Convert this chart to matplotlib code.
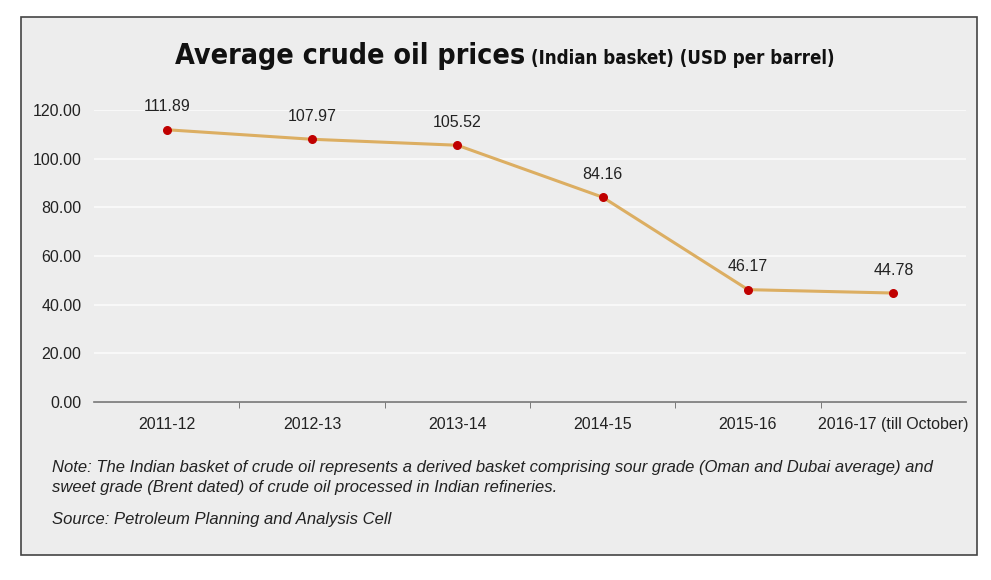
import matplotlib.pyplot as plt
from matplotlib.patches import Rectangle

years = ['2011-12', '2012-13', '2013-14', '2014-15', '2015-16', '2016-17 (till October)']
prices = [111.89, 107.97, 105.52, 84.16, 46.17, 44.78]
yticks = [0, 20, 40, 60, 80, 100, 120]

font = 'Liberation Sans'
bg = '#ededed'
fig = plt.figure(figsize=(9.91, 5.8), dpi=100)
fig.patch.set_facecolor('white')

# grey panel with dark border, behind everything
fig.patches.append(Rectangle((21 / 991, 1 - 555 / 580), 956 / 991, 538 / 580,
                             transform=fig.transFigure, facecolor=bg,
                             edgecolor='#444444', linewidth=1.2, zorder=-5))

ax = fig.add_axes([94 / 991, 1 - 402 / 580, 872 / 991, 292 / 580])
ax.set_zorder(2)
ax.set_facecolor(bg)
x = list(range(len(years)))
ax.plot(x, prices, color='#dcae62', linewidth=2.2, zorder=3, clip_on=False)
ax.scatter(x, prices, color='#c00000', s=30, zorder=4, clip_on=False)
for xi, v in zip(x, prices):
    ax.annotate(f'{v:.2f}', (xi, v), xytext=(0, 11), textcoords='offset points',
                ha='center', va='bottom', fontsize=11.5, family=font, color='#222222')

ax.set_xlim(-0.5, len(years) - 0.5)
ax.set_ylim(0, 120)
ax.set_yticks(yticks)
ax.set_yticklabels([f'{t:.2f}' for t in yticks], family=font, fontsize=11.5, color='#222222')
ax.set_xticks(x)
ax.set_xticklabels(years, family=font, fontsize=11.5, color='#222222')
ax.set_xticks([i + 0.5 for i in range(len(years) - 1)], minor=True)
ax.tick_params(axis='x', which='major', length=0, pad=11)
ax.tick_params(axis='x', which='minor', length=4, color='#666666', direction='out')
ax.tick_params(axis='y', length=0, pad=9)
ax.grid(axis='y', color='#fafafa', linewidth=1.3, zorder=0)
ax.set_axisbelow(True)
for s in ['top', 'right', 'left']:
    ax.spines[s].set_visible(False)
ax.spines['bottom'].set_color('#777777')
ax.spines['bottom'].set_linewidth(1.2)

# two-part title
t1 = fig.text(175 / 991, 1 - 56 / 580, 'Average crude oil prices', fontsize=20.5,
              family='DejaVu Sans', stretch='condensed', weight='heavy',
              color='#111111', va='center')
fig.canvas.draw()
bb = t1.get_window_extent()
fig.text(bb.x1 / fig.bbox.width + 0.006, 1 - 58 / 580, '(Indian basket) (USD per barrel)',
         fontsize=13.4, family='DejaVu Sans', stretch='condensed', weight='heavy',
         color='#111111', va='center')

note = ('Note: The Indian basket of crude oil represents a derived basket comprising sour grade '
        '(Oman and Dubai average) and\nsweet grade (Brent dated) of crude oil processed in Indian refineries.')
fig.text(52 / 991, 1 - 460 / 580, note, fontsize=12, family=font, style='italic',
         color='#222222', va='top', linespacing=1.45)
fig.text(52 / 991, 1 - 512 / 580, 'Source: Petroleum Planning and Analysis Cell', fontsize=12,
         family=font, style='italic', color='#222222', va='top')

fig.savefig('out.png', dpi=100, facecolor='white')
